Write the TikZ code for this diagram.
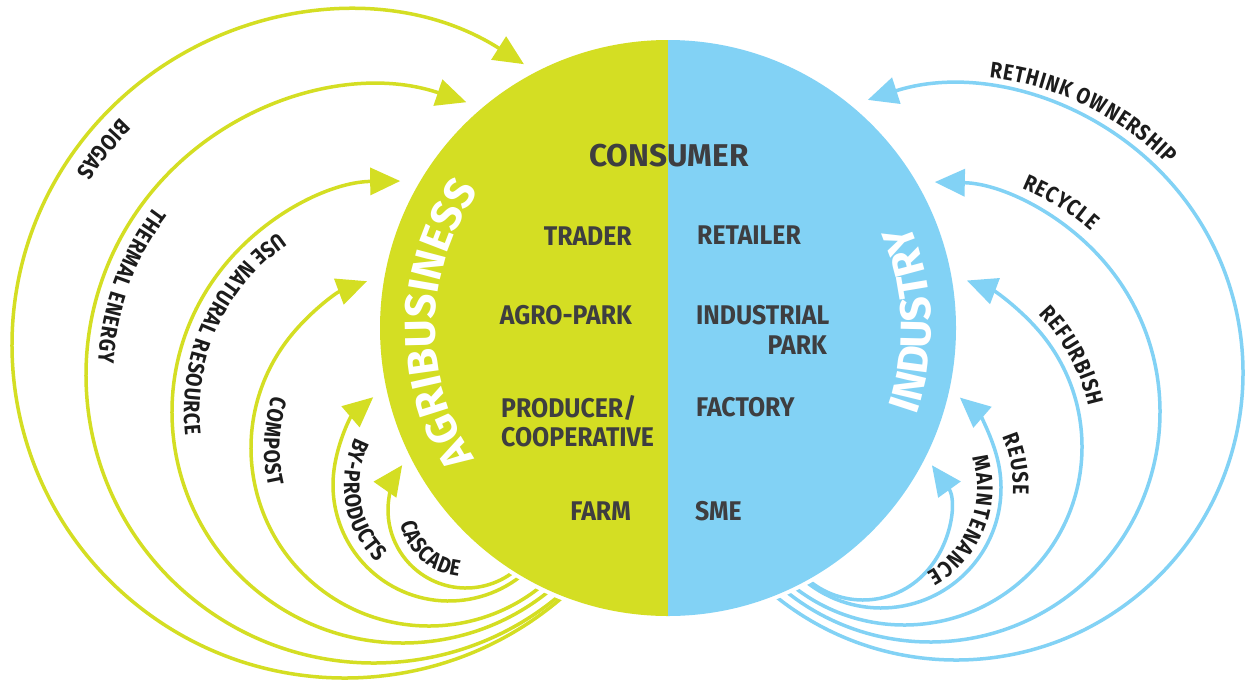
\documentclass[tikz,border=0pt]{standalone}
\usepackage{fontspec}
\setmainfont{Fira Sans}
\newfontfamily\arcfam{Fira Sans}[FakeStretch=0.86]
\newfontfamily\innerfam{Fira Sans}[FakeStretch=0.92]
\usetikzlibrary{arrows.meta,decorations.text}
\definecolor{agri}{RGB}{212,222,35}
\definecolor{indu}{RGB}{130,210,245}
\definecolor{lbl}{RGB}{62,62,64}
\definecolor{arcl}{RGB}{28,28,28}
\newcommand\arcfont{\arcfam\fontsize{22.5}{22.5}\selectfont\bfseries}
\newcommand\ringfont{\fontsize{43}{43}\selectfont\bfseries}
\begin{document}
\begin{tikzpicture}[x=1pt,y=1pt,
  garrow/.style={draw=agri, line width=3.5pt, -{Triangle[length=30pt,width=27pt]}},
  barrow/.style={draw=indu, line width=3.5pt, -{Triangle[length=30pt,width=27pt]}},
  inlbl/.style={font=\innerfam\fontsize{27}{27}\selectfont\bfseries, text=lbl, inner sep=0pt},
  arclbl/.style={decorate, decoration={text effects along path, text={#1}, text align=center,
     text effects/.cd, text along path,
     characters={text=arcl, font=\arcfont, inner xsep=0.5pt, inner ysep=0pt},
     character widths={font=\arcfont, inner xsep=0.5pt, inner ysep=0pt}}},
  ringlbl/.style={decorate, decoration={text along path, text align=center, text color=white, text={|\ringfont|#1}}}
]
\fill[white] (0,0) rectangle (1247,-681);
\useasboundingbox (0,0) rectangle (1247,-681);

% centres
\coordinate (hub) at (668,-328);
\coordinate (gc1) at (345,-345);
\coordinate (gc2) at (374,-375);
\coordinate (gc3) at (403,-412);
\coordinate (gc4) at (429,-448);
\coordinate (gc5) at (449,-485);
\coordinate (gc6) at (466,-510);
\coordinate (bc1) at (956,-373);
\coordinate (bc2) at (930,-412);
\coordinate (bc3) at (904,-447);
\coordinate (bc4) at (881,-488);
\coordinate (bc5) at (863,-515);

% green loops
\draw[garrow] ([shift={(-40:333)}]gc1) arc[start angle=-40, end angle=-302.5, radius=333];
\draw[garrow] ([shift={(-40:288)}]gc2) arc[start angle=-40, end angle=-288.7, radius=288];
\draw[garrow] ([shift={(-38:231)}]gc3) arc[start angle=-38, end angle=-269.3, radius=231];
\draw[garrow] ([shift={(-38:178)}]gc4) arc[start angle=-38, end angle=-249.6, radius=178];
\draw[garrow] ([shift={(-35:116)}]gc5) arc[start angle=-35, end angle=-229.2, radius=116];
\draw[garrow] ([shift={(-35:78)}]gc6) arc[start angle=-35, end angle=-215.1, radius=78];

% blue loops
\draw[barrow] ([shift={(220:287)}]bc1) arc[start angle=220, end angle=467.9, radius=287];
\draw[barrow] ([shift={(220:230)}]bc2) arc[start angle=220, end angle=448.8, radius=230];
\draw[barrow] ([shift={(220:178)}]bc3) arc[start angle=220, end angle=429.3, radius=178];
\draw[barrow] ([shift={(222:120)}]bc4) arc[start angle=222, end angle=408.9, radius=120];
\draw[barrow] ([shift={(222:85)}]bc5) arc[start angle=222, end angle=395.8, radius=85];

% main disc
\fill[white] (hub) circle[radius=292];
\fill[agri] ([shift={(90:288)}]hub) arc[start angle=90, end angle=270, radius=288] -- cycle;
\fill[indu] ([shift={(-90:288)}]hub) arc[start angle=-90, end angle=90, radius=288] -- cycle;

% inner labels
\node[inlbl, font=\fontsize{31.5}{31.5}\selectfont\bfseries, anchor=base] (consumer) at (669,-166) {CONSUMER};
\node[inlbl, anchor=base east] (trader) at (632,-245) {TRADER};
\node[inlbl, anchor=base east] (agropark) at (632,-324.5) {AGRO-PARK};
\node[inlbl, anchor=base west] (producer) at (501,-417) {PRODUCER/};
\node[inlbl, anchor=base west] (coop) at (501,-446.7) {COOPERATIVE};
\node[inlbl, anchor=base east] (farm) at (631,-520) {FARM};
\node[inlbl, anchor=base west] (retailer) at (697,-244) {RETAILER};
\node[inlbl, anchor=base west] (industrial) at (696,-324) {INDUSTRIAL};
\node[inlbl, anchor=base east] (ipark) at (827,-354) {PARK};
\node[inlbl, anchor=base west] (factory) at (696,-416) {FACTORY};
\node[inlbl, anchor=base west] (sme) at (695,-520) {SME};

% ring labels
\path[ringlbl=AGRIBUSINESS] ([shift={(217:233)}]hub) arc[start angle=217, end angle=141, radius=233];
\path[ringlbl=INDUSTRY] ([shift={(-28:263)}]hub) arc[start angle=-28, end angle=32, radius=263];

% loop labels (left)
\path[arclbl=BIOGAS] ([shift={(111:319)}]gc1) arc[start angle=111, end angle=171, radius=319];
\path[arclbl=THERMAL ENERGY] ([shift={(122:276)}]gc2) arc[start angle=122, end angle=198, radius=276];
\path[arclbl=USE NATURAL RESOURCE] ([shift={(100:219)}]gc3) arc[start angle=100, end angle=211, radius=219];
\path[arclbl=COMPOST] ([shift={(140:165)}]gc4) arc[start angle=140, end angle=215, radius=165];
\path[arclbl=BY-PRODUCTS] ([shift={(130:105)}]gc5) arc[start angle=130, end angle=250, radius=105];
\path[arclbl=CASCADE] ([shift={(175:67)}]gc6) arc[start angle=175, end angle=280, radius=67];

% loop labels (right)
\path[arclbl=RETHINK OWNERSHIP] ([shift={(105:297)}]bc1) arc[start angle=105, end angle=23, radius=297];
\path[arclbl=RECYCLE] ([shift={(85:242)}]bc2) arc[start angle=85, end angle=31, radius=242];
\path[arclbl=REFURBISH] ([shift={(60:189)}]bc3) arc[start angle=60, end angle=-3, radius=189];
\path[arclbl=REUSE] ([shift={(40:132)}]bc4) arc[start angle=40, end angle=-20, radius=132];
\path[arclbl=MAINTENANCE] ([shift={(48:96)}]bc4) arc[start angle=48, end angle=-91, radius=96];
\end{tikzpicture}
\end{document}
